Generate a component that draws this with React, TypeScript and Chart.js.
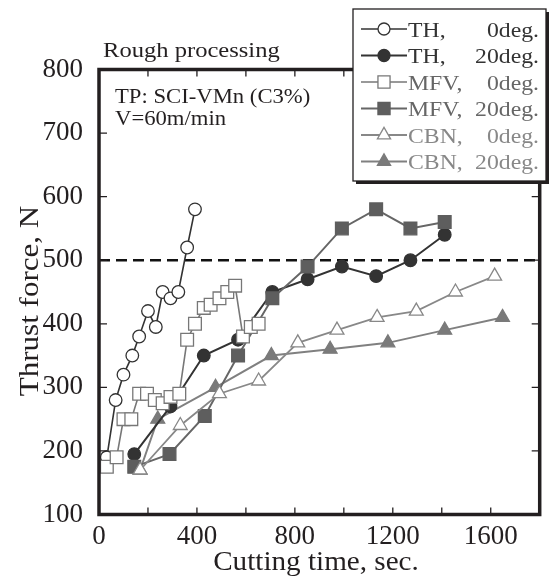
import React, { useEffect, useRef } from "react";
import { Chart, registerables } from "chart.js";

Chart.register(...registerables);

// ---- data ----
const th0X = [32, 68, 100, 136, 164, 200, 232, 260, 292, 324, 360, 392];
const th0Y = [190, 280, 320, 350, 380, 420, 395, 450, 440, 450, 520, 580];

const th20X = [144, 292, 428, 568, 708, 852, 992, 1132, 1272, 1412];
const th20Y = [195, 270, 350, 375, 450, 470, 490, 475, 500, 540];

const mfv0X = [32, 72, 100, 132, 164, 196, 228, 260, 292, 328, 360, 392, 428, 456, 492, 524, 556, 588, 620, 652];
const mfv0Y = [175, 190, 250, 250, 290, 290, 280, 275, 285, 290, 375, 400, 425, 430, 440, 450, 460, 380, 395, 400];

const mfv20X = [144, 288, 432, 568, 708, 852, 992, 1132, 1272, 1412];
const mfv20Y = [175, 195, 255, 350, 440, 490, 550, 580, 550, 560];

const cbn0X = [168, 332, 492, 652, 812, 972, 1136, 1296, 1456, 1616];
const cbn0Y = [170, 240, 290, 310, 370, 390, 410, 420, 450, 475];

const cbn20X = [168, 240, 476, 704, 944, 1180, 1412, 1648];
const cbn20Y = [170, 250, 300, 350, 360, 370, 390, 410];

const limitValue = 500;
const xTickValues = [0, 200, 400, 600, 800, 1000, 1200, 1400, 1600, 1800];
const yTickValues = [100, 200, 300, 400, 500, 600, 700, 800];

const legendNames = ["TH,", "TH,", "MFV,", "MFV,", "CBN,", "CBN,"];
const legendAngles = ["0deg.", "20deg.", "0deg.", "20deg.", "0deg.", "20deg."];

const SERIF = "'Liberation Serif', 'Times New Roman', serif";
const INK = "#231f20";

type Style = {
  line: string;
  border: string;
  fill: string;
  shape: "circle" | "rect" | "triangle";
  radius: number;
  lineWidth: number;
  text: string;
};

const styles: Style[] = [
  { line: "#333333", border: "#333333", fill: "#ffffff", shape: "circle", radius: 6.3, lineWidth: 1.6, text: "#333333" },
  { line: "#333333", border: "#333333", fill: "#333333", shape: "circle", radius: 6.3, lineWidth: 2, text: "#333333" },
  { line: "#777777", border: "#777777", fill: "#ffffff", shape: "rect", radius: 9, lineWidth: 1.6, text: "#666666" },
  { line: "#666666", border: "#5e5e5e", fill: "#5e5e5e", shape: "rect", radius: 9, lineWidth: 2, text: "#666666" },
  { line: "#888888", border: "#888888", fill: "#ffffff", shape: "triangle", radius: 8, lineWidth: 1.8, text: "#888888" },
  { line: "#808080", border: "#7a7a7a", fill: "#7a7a7a", shape: "triangle", radius: 8, lineWidth: 2, text: "#888888" },
];

const seriesX = [th0X, th20X, mfv0X, mfv20X, cbn0X, cbn20X];
const seriesY = [th0Y, th20Y, mfv0Y, mfv20Y, cbn0Y, cbn20Y];
// draw order: open markers on top (lower `order` drawn later -> on top)
const drawOrder = [1, 4, 0, 3, 2, 5];

function drawMarker(ctx: CanvasRenderingContext2D, s: Style, x: number, y: number) {
  ctx.save();
  ctx.fillStyle = s.fill;
  ctx.strokeStyle = s.border;
  ctx.lineWidth = 1.3;
  ctx.beginPath();
  if (s.shape === "circle") {
    ctx.arc(x, y, s.radius, 0, Math.PI * 2);
  } else if (s.shape === "rect") {
    const h = s.radius * Math.SQRT1_2;
    ctx.rect(x - h, y - h, 2 * h, 2 * h);
  } else {
    const r = s.radius;
    ctx.moveTo(x, y - r);
    ctx.lineTo(x + r * Math.sin(Math.PI / 3), y + r * 0.5);
    ctx.lineTo(x - r * Math.sin(Math.PI / 3), y + r * 0.5);
    ctx.closePath();
  }
  ctx.fill();
  ctx.stroke();
  ctx.restore();
}

function stretchedText(
  ctx: CanvasRenderingContext2D,
  text: string,
  x: number,
  y: number,
  size: number,
  color: string,
  sx: number,
  align: CanvasTextAlign = "left",
  rotate = 0
) {
  ctx.save();
  ctx.translate(x, y);
  if (rotate) ctx.rotate(rotate);
  ctx.scale(sx, 1);
  ctx.font = `${size}px ${SERIF}`;
  ctx.fillStyle = color;
  ctx.textAlign = align;
  ctx.textBaseline = "alphabetic";
  ctx.fillText(text, 0, 0);
  ctx.restore();
}

const decorPlugin = {
  id: "decor",
  beforeDatasetsDraw(chart: any) {
    const { ctx, chartArea, scales } = chart;
    const y = scales.y.getPixelForValue(limitValue);
    ctx.save();
    ctx.strokeStyle = "#111111";
    ctx.lineWidth = 2.6;
    ctx.setLineDash([11, 6]);
    ctx.beginPath();
    ctx.moveTo(chartArea.left, y);
    ctx.lineTo(chartArea.right, y);
    ctx.stroke();
    ctx.restore();
  },
  afterDraw(chart: any) {
    const { ctx, chartArea, scales } = chart;
    const { left, right, top, bottom } = chartArea;
    ctx.save();
    // inward ticks
    ctx.strokeStyle = INK;
    ctx.lineWidth = 1.3;
    ctx.beginPath();
    for (const v of xTickValues) {
      const px = scales.x.getPixelForValue(v);
      if (px <= left + 1 || px >= right - 1) continue;
      ctx.moveTo(px, bottom);
      ctx.lineTo(px, bottom - 7);
      ctx.moveTo(px, top);
      ctx.lineTo(px, top + 7);
    }
    for (const v of yTickValues) {
      const py = scales.y.getPixelForValue(v);
      if (py <= top + 1 || py >= bottom - 1) continue;
      ctx.moveTo(left, py);
      ctx.lineTo(left + 8, py);
      ctx.moveTo(right, py);
      ctx.lineTo(right - 8, py);
    }
    ctx.stroke();
    // frame
    ctx.lineWidth = 3.5;
    ctx.strokeStyle = INK;
    ctx.strokeRect(left, top, right - left, bottom - top);
    ctx.restore();

    // annotations
    stretchedText(ctx, "Rough processing", 103, 57, 21, INK, 1.17);
    stretchedText(ctx, "TP: SCI-VMn (C3%)", 115, 103, 21, INK, 1.08);
    stretchedText(ctx, "V=60m/min", 115, 125, 21, INK, 1.08);

    // axis titles
    stretchedText(ctx, "Cutting time, sec.", 316, 570, 27, INK, 1.08, "center");
    stretchedText(ctx, "Thrust force, N", 38, 301, 27, INK, 1.15, "center", -Math.PI / 2);

    // legend
    const bx = 353, by = 9, bw = 193, bh = 172;
    ctx.save();
    ctx.fillStyle = INK;
    ctx.fillRect(bx + 3, by + 3, bw, bh);
    ctx.fillStyle = "#ffffff";
    ctx.fillRect(bx, by, bw, bh);
    ctx.strokeStyle = INK;
    ctx.lineWidth = 1.3;
    ctx.strokeRect(bx, by, bw, bh);
    ctx.restore();
    for (let i = 0; i < 6; i++) {
      const s = styles[i];
      const ry = 29 + i * 26.5;
      ctx.save();
      ctx.strokeStyle = s.line;
      ctx.lineWidth = s.lineWidth;
      ctx.beginPath();
      ctx.moveTo(361, ry);
      ctx.lineTo(407, ry);
      ctx.stroke();
      ctx.restore();
      drawMarker(ctx, { ...s, radius: s.radius * 0.95 }, 384, ry);
      stretchedText(ctx, legendNames[i], 408, ry + 7.5, 21, s.text, 1.13);
      stretchedText(ctx, legendAngles[i], 539, ry + 7.5, 21, s.text, 1.13, "right");
    }
  },
};

export default function App() {
  const ref = useRef<HTMLCanvasElement | null>(null);
  useEffect(() => {
    document.body.style.margin = "0";
    const canvas = ref.current;
    if (!canvas) return;
    const datasets = styles.map((s, i) => ({
      label: legendNames[i] + " " + legendAngles[i],
      data: seriesX[i].map((x, j) => ({ x, y: seriesY[i][j] })),
      showLine: true,
      borderColor: s.line,
      borderWidth: s.lineWidth,
      backgroundColor: s.fill,
      pointStyle: s.shape,
      pointRadius: s.radius,
      pointBorderColor: s.border,
      pointBackgroundColor: s.fill,
      pointBorderWidth: 1.3,
      pointHoverRadius: s.radius,
      tension: 0,
      order: drawOrder[i],
    }));
    const chart = new Chart(canvas, {
      type: "scatter",
      data: { datasets },
      options: {
        responsive: false,
        devicePixelRatio: 1,
        animation: false,
        events: [],
        layout: { padding: { left: 0, top: 69.5, right: 3, bottom: 0 } },
        plugins: { legend: { display: false }, tooltip: { enabled: false }, title: { display: false } },
        scales: {
          x: {
            type: "linear",
            min: 0,
            max: 1800,
            afterFit: (s: any) => {
              s.height = 576 - 514.5;
            },
            grid: { display: false },
            border: { display: false },
            ticks: {
              stepSize: 200,
              autoSkip: false,
              maxRotation: 0,
              padding: -2,
              color: INK,
              font: { family: SERIF, size: 27 },
              callback: (v: any) => (Number(v) % 400 === 0 ? String(v) : ""),
            },
          },
          y: {
            type: "linear",
            min: 100,
            max: 800,
            afterFit: (s: any) => {
              s.width = 99;
            },
            grid: { display: false },
            border: { display: false },
            ticks: {
              stepSize: 100,
              autoSkip: false,
              padding: 8,
              color: INK,
              font: { family: SERIF, size: 27 },
            },
          },
        },
      },
      plugins: [decorPlugin],
    } as any);
    return () => chart.destroy();
  }, []);
  return (
    <div style={{ position: "absolute", left: 0, top: 0, width: 550, height: 576 }}>
      <canvas ref={ref} width={550} height={576} style={{ display: "block" }} />
    </div>
  );
}
